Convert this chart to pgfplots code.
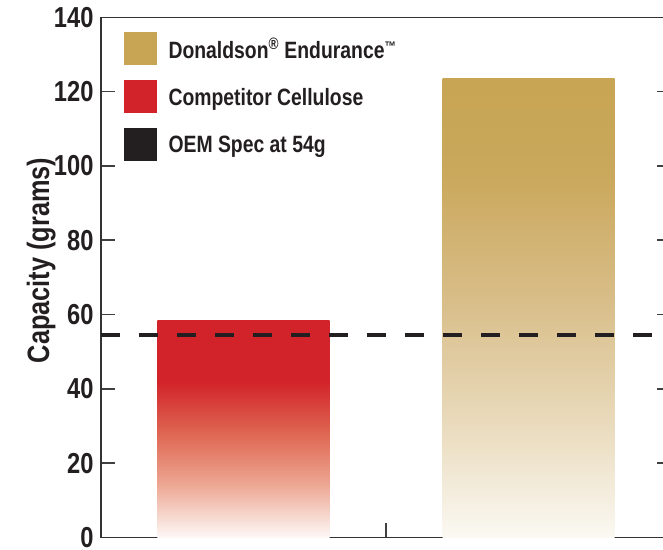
\documentclass[border=0pt]{standalone}
\usepackage{fontspec}
\setmainfont{Liberation Sans}[FakeStretch=0.82]
\usepackage{pgfplots}
\pgfplotsset{compat=1.18}
\definecolor{goldc}{RGB}{199,165,84}
\definecolor{redc}{RGB}{210,35,42}
\definecolor{blk}{RGB}{35,31,32}
\definecolor{rbot}{RGB}{253,248,246}
\definecolor{rA}{RGB}{236,165,145}
\definecolor{rB}{RGB}{222,100,80}
\definecolor{gbot}{RGB}{251,249,243}
\definecolor{gA}{RGB}{236,223,196}
\definecolor{gB}{RGB}{216,189,136}
\definecolor{gC}{RGB}{202,168,92}
\pgfdeclareverticalshading{redbar}{100bp}{color(0bp)=(rbot); color(25bp)=(rbot); color(37.5bp)=(rA); color(49.5bp)=(rB); color(61bp)=(redc); color(100bp)=(redc)}
\pgfdeclareverticalshading{goldbar}{100bp}{color(0bp)=(gbot); color(25bp)=(gbot); color(35.5bp)=(gA); color(51bp)=(gB); color(64.5bp)=(gC); color(75bp)=(goldc); color(100bp)=(goldc)}
\begin{document}
\begin{tikzpicture}
\begin{axis}[
  name=ax, at={(0,0)}, anchor=south west,
  scale only axis, width=570bp, height=520bp,
  xmin=0.5, xmax=2.5, ymin=0, ymax=140,
  xtick={1.5}, xticklabels={}, xtick pos=left,
  ytick={0,20,...,140}, ytick pos=both, yticklabel pos=left,
  tick align=inside, major tick length=14bp,
  axis line style={line width=1.6bp, black!80},
  tick style={line width=1.6bp, black!75},
  /pgf/number format/assume math mode=true,
  yticklabel style={font=\bfseries\fontsize{29}{29}\selectfont, text=blk, xshift=-4bp},
  ylabel={Capacity (grams)},
  ylabel style={font=\bfseries\fontsize{31}{31}\selectfont, text=blk, at={(axis description cs:-0.0912,0.5325)}, anchor=base},
  legend cell align=left,
  legend style={at={(axis description cs:0.04035,0.9719)}, anchor=north west, draw=none, fill=none, inner sep=0pt, row sep=15.5bp, column sep=0pt, font=\bfseries\fontsize{23.7}{23.7}\selectfont, text=blk, nodes={inner sep=0pt}},
]
\addlegendimage{legend image code/.code={\fill[goldc] (0bp,-15bp) rectangle (32bp,17bp); \path (44bp,0bp);}}
\addlegendentry{Donaldson\textsuperscript{\textregistered} Endurance\raisebox{7bp}{\fontsize{14}{14}\selectfont ™}}
\addlegendimage{legend image code/.code={\fill[redc] (0bp,-15bp) rectangle (32bp,17bp); \path (44bp,0bp);}}
\addlegendentry{Competitor Cellulose}
\addlegendimage{legend image code/.code={\fill[blk] (0bp,-15bp) rectangle (32bp,17bp); \path (44bp,0bp);}}
\addlegendentry{OEM Spec at 54g}
\addplot[ybar, bar width=172bp, bar shift=0pt, draw=none, shade, shading=redbar, forget plot] coordinates {(1,58.3)};
\addplot[ybar, bar width=172bp, bar shift=0pt, draw=none, shade, shading=goldbar, forget plot] coordinates {(2,123.5)};
\addplot[blk, line width=4bp, dash pattern=on 19bp off 19bp, forget plot] coordinates {(0.5,54.5) (2.5,54.5)};
\end{axis}
\pgfresetboundingbox
\path[use as bounding box] (-101bp,-12.6bp) rectangle (562bp,537.4bp);
\end{tikzpicture}
\end{document}
